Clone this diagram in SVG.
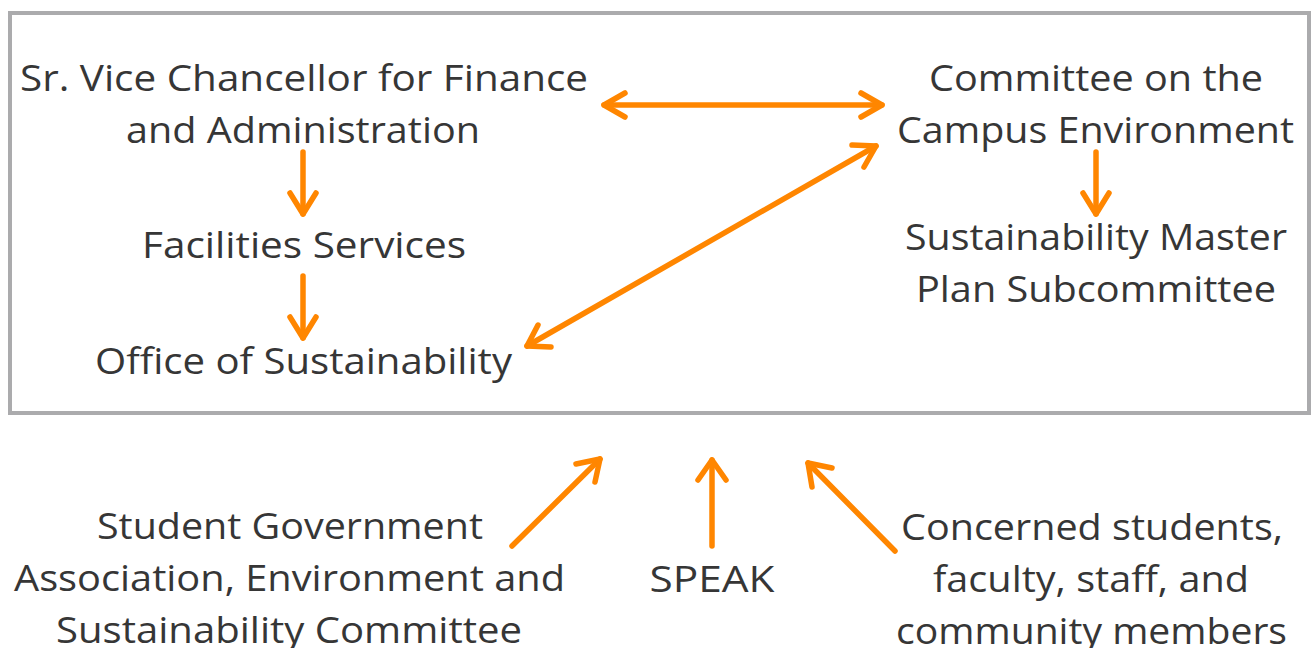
<svg xmlns="http://www.w3.org/2000/svg" width="1311" height="648" viewBox="0 0 1311 648">
<style>
.t{font-family:"Open Sans","Liberation Sans",sans-serif;font-size:36px;fill:#363636;text-anchor:middle}
.a{fill:none;stroke:#ff8600;stroke-width:5.5;stroke-linecap:round;stroke-linejoin:round}
</style>
<rect x="0" y="0" width="1311" height="648" fill="#ffffff"/>
<rect id="frame" x="10" y="13" width="1299" height="400" fill="none" stroke="#ababad" stroke-width="4"/>
<g id="svc">
<text class="t" x="304" y="91" textLength="568" lengthAdjust="spacingAndGlyphs">Sr. Vice Chancellor for Finance</text>
<text class="t" x="303" y="143" textLength="354" lengthAdjust="spacingAndGlyphs">and Administration</text>
</g>
<g id="facilities">
<text class="t" x="304" y="258" textLength="324" lengthAdjust="spacingAndGlyphs">Facilities Services</text>
</g>
<g id="office">
<text class="t" x="303.5" y="374" textLength="417" lengthAdjust="spacingAndGlyphs">Office of Sustainability</text>
</g>
<g id="committee">
<text class="t" x="1096" y="91" textLength="334" lengthAdjust="spacingAndGlyphs">Committee on the</text>
<text class="t" x="1095.5" y="143" textLength="397" lengthAdjust="spacingAndGlyphs">Campus Environment</text>
</g>
<g id="subcommittee">
<text class="t" x="1096" y="250" textLength="382" lengthAdjust="spacingAndGlyphs">Sustainability Master</text>
<text class="t" x="1096" y="302" textLength="360" lengthAdjust="spacingAndGlyphs">Plan Subcommittee</text>
</g>
<g id="sga">
<text class="t" x="290" y="539" textLength="386" lengthAdjust="spacingAndGlyphs">Student Government</text>
<text class="t" x="289.5" y="591" textLength="551" lengthAdjust="spacingAndGlyphs">Association, Environment and</text>
<text class="t" x="289" y="643" textLength="466" lengthAdjust="spacingAndGlyphs">Sustainability Committee</text>
</g>
<g id="speak">
<text class="t" x="712" y="592" textLength="125" lengthAdjust="spacingAndGlyphs">SPEAK</text>
</g>
<g id="concerned">
<text class="t" x="1092" y="540" textLength="382" lengthAdjust="spacingAndGlyphs">Concerned students,</text>
<text class="t" x="1091" y="592" textLength="316" lengthAdjust="spacingAndGlyphs">faculty, staff, and</text>
<text class="t" x="1091.5" y="644" textLength="391" lengthAdjust="spacingAndGlyphs">community members</text>
</g>
<g id="connectors">
<line class="a" x1="604" y1="105" x2="882" y2="105"/>
<polyline class="a" points="625,93 604,105 625,117"/>
<polyline class="a" points="861,93 882,105 861,117"/>
<line class="a" x1="303" y1="152" x2="303" y2="214"/>
<polyline class="a" points="290,193 303,214 316,193"/>
<line class="a" x1="303" y1="276" x2="303" y2="338"/>
<polyline class="a" points="290,317 303,338 316,317"/>
<line class="a" x1="1096" y1="152" x2="1096" y2="214"/>
<polyline class="a" points="1083,193 1096,214 1109,193"/>
<line class="a" x1="527" y1="346" x2="876" y2="146"/>
<polyline class="a" points="538,325 527,346 551,347"/>
<polyline class="a" points="852,145 876,146 864,167"/>
<line class="a" x1="512" y1="546" x2="600" y2="459"/>
<polyline class="a" points="576,464 600,459 595,482"/>
<line class="a" x1="712" y1="546" x2="712" y2="460"/>
<polyline class="a" points="698,480 712,460 726,480"/>
<line class="a" x1="895" y1="551" x2="808" y2="463"/>
<polyline class="a" points="832,468 808,463 812,487"/>
</g>
</svg>
